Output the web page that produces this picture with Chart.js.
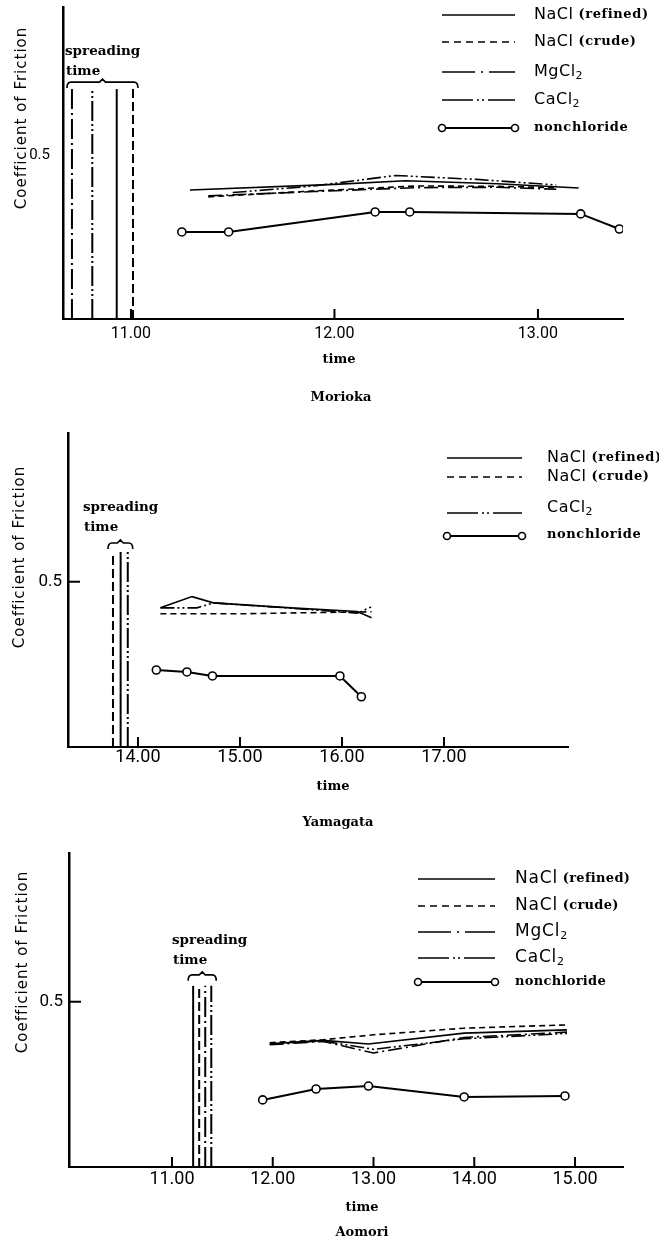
<!DOCTYPE html>
<html>
<head>
<meta charset="utf-8">
<script src="https://cdn.jsdelivr.net/npm/chart.js@4.4.1/dist/chart.umd.min.js"></script>
<style>
html, body { margin: 0; padding: 0; background: #fff; }
#wrap { position: relative; width: 659px; height: 1243px; }
canvas { position: absolute; left: 0; }
</style>
</head>
<body>
<div id="wrap">
  <canvas id="c1" width="659" height="410" style="top:0px"></canvas>
  <canvas id="c2" width="659" height="430" style="top:410px"></canvas>
  <canvas id="c3" width="659" height="413" style="top:830px"></canvas>
</div>
<script>
// ---- data (time of day, coefficient of friction) ----
var yTicks = [0.5];

// Morioka
var moriokaTicks = [11, 12, 13];
var moriokaSpread = [10.71, 10.81, 10.93, 11.01];
var moriokaSpreadTop = 0.70;
var moriokaRefined = [[11.29, 0.393], [12.0, 0.410], [12.35, 0.421], [12.8, 0.412], [13.20, 0.399]];
var moriokaCrude = [[11.38, 0.372], [11.9, 0.390], [12.4, 0.405], [12.8, 0.404], [13.09, 0.400]];
var moriokaMg = [[11.38, 0.375], [11.9, 0.388], [12.4, 0.400], [12.8, 0.401], [13.09, 0.395]];
var moriokaCa = [[11.50, 0.385], [11.9, 0.405], [12.3, 0.437], [12.7, 0.425], [13.09, 0.408]];
var moriokaNon = [[11.25, 0.265], [11.48, 0.265], [12.20, 0.326], [12.37, 0.326], [13.21, 0.320], [13.40, 0.274]];

// Yamagata
var yamagataTicks = [14, 15, 16, 17];
var yamagataSpread = [13.755, 13.83, 13.90];
var yamagataSpreadTop = 0.59;
var yamagataRefined = [[14.22, 0.421], [14.53, 0.455], [14.74, 0.436], [15.5, 0.421], [16.15, 0.410], [16.29, 0.391]];
var yamagataCrude = [[14.22, 0.403], [15.0, 0.403], [15.6, 0.406], [16.29, 0.409]];
var yamagataCa = [[14.22, 0.421], [14.58, 0.421], [14.74, 0.436], [15.5, 0.420], [16.15, 0.405], [16.29, 0.424]];
var yamagataNon = [[14.18, 0.233], [14.48, 0.227], [14.73, 0.215], [15.98, 0.215], [16.19, 0.152]];

// Aomori
var aomoriTicks = [11, 12, 13, 14, 15];
var aomoriSpread = [11.21, 11.27, 11.33, 11.39];
var aomoriSpreadTop = 0.548;
var aomoriRefined = [[11.97, 0.373], [12.5, 0.383], [12.95, 0.372], [13.9, 0.405], [14.92, 0.415]];
var aomoriCrude = [[11.97, 0.376], [12.5, 0.385], [13.0, 0.400], [13.9, 0.420], [14.92, 0.430]];
var aomoriMg = [[11.97, 0.370], [12.5, 0.380], [13.0, 0.345], [13.9, 0.392], [14.92, 0.408]];
var aomoriCa = [[11.97, 0.372], [12.5, 0.381], [13.0, 0.356], [13.9, 0.388], [14.92, 0.404]];
var aomoriNon = [[11.90, 0.203], [12.43, 0.236], [12.95, 0.245], [13.90, 0.212], [14.90, 0.215]];

// ---- styles ----
var DASH = {
  solid: [],
  dashed: [6, 4],
  dashDot: [14, 4, 2, 4],
  dashDotDot: [14, 3, 2, 3, 2, 3]
};
// longer patterns for the vertical spreading lines
var DASH_SPREAD = {
  solid: [],
  dashed: [9, 4],
  dashDot: [20, 4, 2, 4],
  dashDotDot: [20, 3, 2, 3, 2, 3]
};
// legend samples: one long dash, a dot group, long dash
var DASH_LEGEND = {
  solid: [],
  dashed: [7, 5],
  dashDot: [33, 6, 2, 6],
  dashDotDot: [31, 4, 2, 3, 2, 4]
};

function lineSet(label, pts, style) {
  return {
    label: label,
    dashStyle: style,
    data: pts.map(function(p) { return { x: p[0], y: p[1] }; }),
    borderColor: '#000',
    borderWidth: 1.6,
    borderDash: DASH[style],
    pointRadius: 0,
    fill: false,
    tension: 0
  };
}

function nonSet(pts) {
  return {
    label: 'nonchloride',
    dashStyle: 'solid',
    data: pts.map(function(p) { return { x: p[0], y: p[1] }; }),
    borderColor: '#000',
    borderWidth: 2,
    pointRadius: 4,
    pointBackgroundColor: '#fff',
    pointBorderColor: '#000',
    pointBorderWidth: 1.6,
    fill: false,
    tension: 0
  };
}

// vertical lines marking when the agents were spread
function spreadSets(times, top, styles) {
  return times.map(function(t, i) {
    return {
      label: 'spread' + i,
      data: [{ x: t, y: 0 }, { x: t, y: top }],
      borderColor: '#000',
      borderWidth: 2,
      borderDash: DASH_SPREAD[styles[i]],
      pointRadius: 0,
      fill: false
    };
  });
}

function drawParts(ctx, parts, x, y, fonts) {
  parts.forEach(function(p) {
    var f = fonts[p[1]];
    ctx.font = f.font;
    ctx.letterSpacing = f.sp || '0px';
    ctx.fillText(p[0], x, y + (f.dy || 0));
    x += ctx.measureText(p[0]).width;
  });
  ctx.letterSpacing = '0px';
}

var decor = {
  id: 'decor',
  afterDraw: function(chart, args, o) {
    var ctx = chart.ctx, a = chart.chartArea, xs = chart.scales.x, ys = chart.scales.y;
    ctx.save();
    ctx.strokeStyle = '#000';
    ctx.fillStyle = '#000';
    ctx.lineWidth = 2;
    ctx.setLineDash([]);

    // tick marks pointing into the plot
    xs.ticks.forEach(function(t) {
      var px = xs.getPixelForValue(t.value);
      ctx.beginPath();
      ctx.moveTo(px, a.bottom);
      ctx.lineTo(px, a.bottom - o.tickLen);
      ctx.stroke();
    });
    if (o.yTick) {
      var py = ys.getPixelForValue(yTicks[0]);
      ctx.beginPath();
      ctx.moveTo(a.left, py);
      ctx.lineTo(a.left + o.yTick, py);
      ctx.stroke();
    }

    // y title
    ctx.save();
    ctx.translate(o.yTitle[0], o.yTitle[1]);
    ctx.rotate(-Math.PI / 2);
    ctx.font = '15px "DejaVu Sans"';
    ctx.letterSpacing = '1px';
    ctx.textAlign = 'center';
    ctx.textBaseline = 'middle';
    ctx.fillText('Coefficient of Friction', 0, 0);
    ctx.restore();

    // x title and station name
    ctx.font = 'bold 13px "DejaVu Serif"';
    ctx.textAlign = 'center';
    ctx.textBaseline = 'middle';
    ctx.fillText('time', o.xTitle[0], o.xTitle[1]);
    ctx.fillText(o.city, o.cityPos[0], o.cityPos[1]);

    // spreading time label + brace
    ctx.font = 'bold 13.5px "DejaVu Serif"';
    ctx.textAlign = 'left';
    ctx.textBaseline = 'alphabetic';
    ctx.fillText('spreading', o.spreadText[0], o.spreadText[1]);
    ctx.fillText('time', o.spreadText[0] + 1, o.spreadText[1] + 20);

    var bx1 = xs.getPixelForValue(Math.min.apply(null, o.spread)) - 5;
    var bx2 = xs.getPixelForValue(Math.max.apply(null, o.spread)) + 5;
    var by = ys.getPixelForValue(o.spreadTop) - o.braceGap;
    var bm = (bx1 + bx2) / 2;
    ctx.lineWidth = 1.6;
    ctx.beginPath();
    ctx.moveTo(bx1, by + 6);
    ctx.quadraticCurveTo(bx1, by, bx1 + 4, by);
    ctx.lineTo(bm - 3, by);
    ctx.lineTo(bm, by - 3);
    ctx.lineTo(bm + 3, by);
    ctx.lineTo(bx2 - 4, by);
    ctx.quadraticCurveTo(bx2, by, bx2, by + 6);
    ctx.stroke();

    // legend
    var L = o.legend;
    L.rows.forEach(function(r) {
      var ds = chart.data.datasets.find(function(d) { return d.label === r.label; });
      ctx.setLineDash(DASH_LEGEND[ds.dashStyle] || []);
      ctx.lineWidth = ds.borderWidth;
      ctx.beginPath();
      ctx.moveTo(L.x1, r.y);
      ctx.lineTo(L.x2, r.y);
      ctx.stroke();
      ctx.setLineDash([]);
      if (ds.pointRadius) {
        [L.x1, L.x2].forEach(function(px) {
          ctx.beginPath();
          ctx.arc(px, r.y, 3.5, 0, Math.PI * 2);
          ctx.fillStyle = '#fff';
          ctx.fill();
          ctx.lineWidth = 1.6;
          ctx.stroke();
        });
        ctx.fillStyle = '#000';
      }
      ctx.textAlign = 'left';
      ctx.textBaseline = 'middle';
      drawParts(ctx, r.parts, L.tx, r.ty, L.fonts);
    });
    ctx.restore();
  }
};
Chart.register(decor);

function panel(id, cfg) {
  var ar = cfg.area;
  return new Chart(document.getElementById(id), {
    type: 'line',
    data: { datasets: cfg.datasets },
    options: {
      responsive: false,
      animation: false,
      devicePixelRatio: 1,
      layout: { padding: { left: 0, bottom: 0, top: ar.top, right: 659 - ar.right } },
      plugins: {
        legend: { display: false },
        tooltip: { enabled: false },
        decor: cfg.decor
      },
      scales: {
        x: {
          type: 'linear',
          min: cfg.xMin,
          max: cfg.xMax,
          afterFit: function(s) { s.height = cfg.h - ar.bottom; s.paddingLeft = 0; s.paddingRight = 0; },
          afterBuildTicks: function(s) { s.ticks = cfg.xTicks.map(function(v) { return { value: v }; }); },
          grid: { display: false, drawTicks: false },
          border: { display: true, color: '#000', width: 2 },
          ticks: {
            color: '#000',
            font: cfg.xFont,
            padding: cfg.xPad,
            maxRotation: 0,
            autoSkip: false,
            callback: function(v) { return v.toFixed(2); }
          }
        },
        y: {
          min: 0,
          max: 0.95,
          afterFit: function(s) { s.width = ar.left; s.paddingTop = 0; s.paddingBottom = 0; },
          afterBuildTicks: function(s) { s.ticks = yTicks.map(function(v) { return { value: v }; }); },
          grid: { display: false, drawTicks: false },
          border: { display: true, color: '#000', width: 2.5 },
          ticks: {
            color: '#000',
            font: cfg.yFont,
            padding: cfg.yPad,
            callback: function(v) { return String(v); }
          }
        }
      }
    }
  });
}

var fontsSmall = {
  name: { font: '16px "DejaVu Sans"', sp: '0.5px' },
  suffix: { font: 'bold 13px "DejaVu Serif"', sp: '0.6px' },
  sub: { font: '11px "DejaVu Sans"', dy: 4 }
};
var fontsBig = {
  name: { font: '17px "DejaVu Sans"', sp: '0.8px' },
  suffix: { font: 'bold 13px "DejaVu Serif"', sp: '0.3px' },
  sub: { font: '11px "DejaVu Sans"', dy: 4 }
};

// Morioka
panel('c1', {
  h: 410,
  area: { left: 63, top: 7, right: 623, bottom: 319 },
  xMin: 10.666, xMax: 13.418,
  xTicks: moriokaTicks,
  xFont: { family: 'Roboto', size: 16 }, xPad: 5,
  yFont: { family: 'Roboto', size: 15 }, yPad: 13,
  datasets: spreadSets(moriokaSpread, moriokaSpreadTop, ['dashDot', 'dashDotDot', 'solid', 'dashed']).concat([
    lineSet('refined', moriokaRefined, 'solid'),
    lineSet('crude', moriokaCrude, 'dashed'),
    lineSet('mg', moriokaMg, 'dashDot'),
    lineSet('ca', moriokaCa, 'dashDotDot'),
    nonSet(moriokaNon)
  ]),
  decor: {
    tickLen: 10, yTick: 0,
    yTitle: [22, 118], xTitle: [339, 360], city: 'Morioka', cityPos: [341, 398],
    spreadText: [65, 55], spread: moriokaSpread, spreadTop: moriokaSpreadTop, braceGap: 7,
    legend: {
      x1: 442, x2: 515, tx: 534, fonts: fontsSmall,
      rows: [
        { label: 'refined', y: 15, ty: 15, parts: [['NaCl', 'name'], [' (refined)', 'suffix']] },
        { label: 'crude', y: 42, ty: 42, parts: [['NaCl', 'name'], [' (crude)', 'suffix']] },
        { label: 'mg', y: 72, ty: 72, parts: [['MgCl', 'name'], ['2', 'sub']] },
        { label: 'ca', y: 100, ty: 100, parts: [['CaCl', 'name'], ['2', 'sub']] },
        { label: 'nonchloride', y: 128, ty: 128, parts: [['nonchloride', 'suffix']] }
      ]
    }
  }
});

// Yamagata
panel('c2', {
  h: 430,
  area: { left: 68, top: 23, right: 568, bottom: 337 },
  xMin: 13.314, xMax: 18.216,
  xTicks: yamagataTicks,
  xFont: { family: 'Roboto', size: 18 }, xPad: 0,
  yFont: { family: 'Roboto', size: 17 }, yPad: 6,
  datasets: spreadSets(yamagataSpread, yamagataSpreadTop, ['dashed', 'solid', 'dashDotDot']).concat([
    lineSet('refined', yamagataRefined, 'solid'),
    lineSet('crude', yamagataCrude, 'dashed'),
    lineSet('ca', yamagataCa, 'dashDotDot'),
    nonSet(yamagataNon)
  ]),
  decor: {
    tickLen: 10, yTick: 12,
    yTitle: [20, 147], xTitle: [333, 377], city: 'Yamagata', cityPos: [338, 413],
    spreadText: [83, 101], spread: yamagataSpread, spreadTop: yamagataSpreadTop, braceGap: 9,
    legend: {
      x1: 447, x2: 522, tx: 547, fonts: fontsSmall,
      rows: [
        { label: 'refined', y: 48, ty: 48, parts: [['NaCl', 'name'], [' (refined)', 'suffix']] },
        { label: 'crude', y: 67, ty: 67, parts: [['NaCl', 'name'], [' (crude)', 'suffix']] },
        { label: 'ca', y: 103, ty: 98, parts: [['CaCl', 'name'], ['2', 'sub']] },
        { label: 'nonchloride', y: 126, ty: 125, parts: [['nonchloride', 'suffix']] }
      ]
    }
  }
});

// Aomori
panel('c3', {
  h: 413,
  area: { left: 69, top: 23, right: 623, bottom: 337 },
  xMin: 9.978, xMax: 15.476,
  xTicks: aomoriTicks,
  xFont: { family: 'Roboto', size: 18 }, xPad: 2,
  yFont: { family: 'Roboto', size: 17 }, yPad: 6,
  datasets: spreadSets(aomoriSpread, aomoriSpreadTop, ['solid', 'dashed', 'dashDot', 'dashDotDot']).concat([
    lineSet('refined', aomoriRefined, 'solid'),
    lineSet('crude', aomoriCrude, 'dashed'),
    lineSet('mg', aomoriMg, 'dashDot'),
    lineSet('ca', aomoriCa, 'dashDotDot'),
    nonSet(aomoriNon)
  ]),
  decor: {
    tickLen: 10, yTick: 12,
    yTitle: [23, 132], xTitle: [362, 378], city: 'Aomori', cityPos: [362, 403],
    spreadText: [172, 114], spread: aomoriSpread, spreadTop: aomoriSpreadTop, braceGap: 11,
    legend: {
      x1: 418, x2: 495, tx: 515, fonts: fontsBig,
      rows: [
        { label: 'refined', y: 49, ty: 49, parts: [['NaCl', 'name'], [' (refined)', 'suffix']] },
        { label: 'crude', y: 76, ty: 76, parts: [['NaCl', 'name'], [' (crude)', 'suffix']] },
        { label: 'mg', y: 102, ty: 102, parts: [['MgCl', 'name'], ['2', 'sub']] },
        { label: 'ca', y: 128, ty: 128, parts: [['CaCl', 'name'], ['2', 'sub']] },
        { label: 'nonchloride', y: 152, ty: 152, parts: [['nonchloride', 'suffix']] }
      ]
    }
  }
});
</script>
</body>
</html>
